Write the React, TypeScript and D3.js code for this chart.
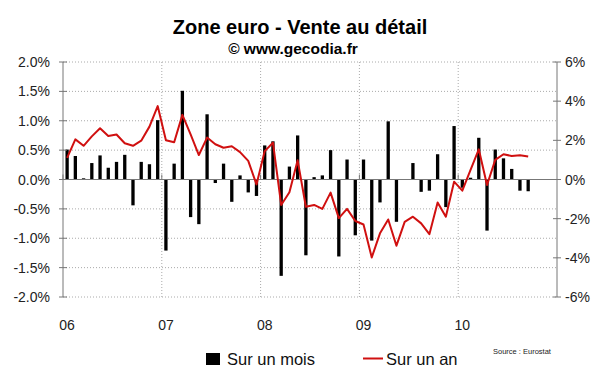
import * as React from 'react';
import * as d3 from 'd3';

// Zone euro, ventes au détail, jan 2006 - sep 2010
const years = ['06', '07', '08', '09', '10'];
const months: string[] = [];
years.forEach(y => { for (let m = 1; m <= 12; m++) months.push(y + '-' + m); });

// variation mensuelle (%) - axe gauche
const surUnMois = [
  0.51, 0.40, 0.02, 0.28, 0.41, 0.20, 0.30, 0.42, -0.44, 0.30, 0.26, 1.01,
  -1.21, 0.27, 1.51, -0.64, -0.76, 1.11, -0.06, 0.27, -0.38, 0.07, -0.22, -0.28,
  0.58, 0.65, -1.64, 0.22, 0.75, -1.29, 0.04, 0.07, 0.50, -1.31, 0.34, -0.95,
  0.34, -1.04, -0.39, 0.99, -0.72, 0.00, 0.28, -0.21, -0.19, 0.43, -0.47, 0.91,
  -0.14, 0.03, 0.71, -0.87, 0.51, 0.36, 0.18, -0.19, -0.20,
];

// variation annuelle (%) - axe droit
const surUnAn = [
  1.1, 2.05, 1.72, 2.2, 2.62, 2.22, 2.3, 1.85, 1.72, 1.98, 2.7, 3.75,
  2.0, 1.9, 3.3, 2.3, 1.25, 2.14, 1.8, 1.62, 1.7, 1.4, 0.95, -0.25,
  1.45, 1.88, -1.3, -0.65, 0.98, -1.39, -1.3, -1.5, -0.67, -1.97, -1.5, -2.12,
  -2.3, -3.98, -2.75, -2.04, -3.38, -2.16, -1.9, -2.24, -2.79, -1.17, -1.9, -0.11,
  -0.57, 0.49, 1.54, -0.28, 1.0, 1.29, 1.2, 1.24, 1.17,
];

const leftTicks = [2.0, 1.5, 1.0, 0.5, 0.0, -0.5, -1.0, -1.5, -2.0];
const rightTicks = [6, 4, 2, 0, -2, -4, -6];

const W = 600, H = 372;
const X0 = 63, X1 = 557, Y0 = 62, Y1 = 297;
const font = '"Liberation Sans", Arial, sans-serif';

export default function App() {
  const x = d3.scaleBand<string>().domain(months).range([X0, X1]).padding(0);
  const yL = d3.scaleLinear().domain([-2, 2]).range([Y1, Y0]);
  const yR = d3.scaleLinear().domain([-6, 6]).range([Y1, Y0]);
  const cx = (i: number) => (x(months[i]) as number) + x.bandwidth() / 2;
  const barW = 3.3;

  const line = d3.line<number>()
    .x((_, i) => cx(i))
    .y(d => yR(d));

  return (
    <svg width={W} height={H} style={{ position: 'absolute', left: 0, top: 0, background: '#fff' }}
      fontFamily={font}>
      <rect width={W} height={H} fill="#fff" />
      <text x={300} y={34} textAnchor="middle" fontSize={20} fontWeight="bold">Zone euro - Vente au détail</text>
      <text x={293} y={54} textAnchor="middle" fontSize={15.5} fontWeight="bold">© www.gecodia.fr</text>

      {/* grille horizontale */}
      {leftTicks.filter(t => t !== 0).map((t, i) => (
        <line key={'h' + i} x1={X0} x2={X1} y1={yL(t)} y2={yL(t)}
          stroke="#aaa" strokeWidth={1} strokeDasharray="1,2" />
      ))}
      {/* grille verticale */}
      {years.slice(1).map((y, i) => {
        const gx = x(y + '-1') as number;
        return <line key={'v' + i} x1={gx} x2={gx} y1={Y0} y2={Y1}
          stroke="#aaa" strokeWidth={1} strokeDasharray="1,2" />;
      })}

      {/* barres */}
      {surUnMois.map((v, i) => (
        <rect key={'b' + i} x={cx(i) - barW / 2} width={barW}
          y={Math.min(yL(v), yL(0))} height={Math.abs(yL(v) - yL(0))} fill="#000" />
      ))}

      {/* axe zéro */}
      <line x1={X0} x2={X1} y1={yL(0)} y2={yL(0)} stroke="#777" strokeWidth={1} />
      {years.map((y, i) => {
        const gx = x(y + '-1') as number;
        return <line key={'t' + i} x1={gx} x2={gx} y1={yL(0)} y2={yL(0) - 5} stroke="#777" />;
      })}

      {/* axes verticaux */}
      <line x1={X0} x2={X0} y1={Y0} y2={Y1} stroke="#777" />
      <line x1={X1} x2={X1} y1={Y0} y2={Y1} stroke="#777" />
      {leftTicks.map((t, i) => (
        <g key={'l' + i}>
          <line x1={X0 - 4} x2={X0 + 4} y1={yL(t)} y2={yL(t)} stroke="#777" />
          <text x={50} y={yL(t) + 5} textAnchor="end" fontSize={14} fill="#222">{t.toFixed(1)}%</text>
        </g>
      ))}
      {rightTicks.map((t, i) => (
        <g key={'r' + i}>
          <line x1={X1 - 4} x2={X1 + 4} y1={yR(t)} y2={yR(t)} stroke="#777" />
          <text x={565} y={yR(t) + 5} fontSize={14} fill="#222">{t}%</text>
        </g>
      ))}

      {/* courbe annuelle */}
      <path d={line(surUnAn) as string} fill="none" stroke="#d01010" strokeWidth={2} strokeLinejoin="round" />

      {/* étiquettes années */}
      {years.map((y, i) => (
        <text key={'x' + i} x={x(y + '-1')! + x.bandwidth() / 2} y={330} textAnchor="middle" fontSize={14} fill="#222">{y}</text>
      ))}

      {/* légende */}
      <rect x={206} y={353} width={14} height={12} fill="#000" />
      <text x={227} y={365} fontSize={16.5} fill="#111">Sur un mois</text>
      <line x1={363} x2={383} y1={358.5} y2={358.5} stroke="#d01010" strokeWidth={2} />
      <text x={386} y={365} fontSize={16.5} fill="#111">Sur un an</text>
      <text x={493} y={354} fontSize={7.5} fill="#222">Source : Eurostat</text>
    </svg>
  );
}
